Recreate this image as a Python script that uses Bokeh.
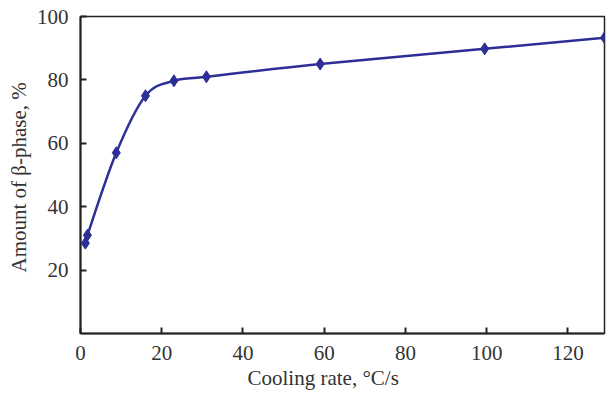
import numpy as np
from bokeh.plotting import figure
from bokeh.models import FixedTicker, Range1d, Title
from bokeh.embed import file_html
from bokeh.resources import INLINE

cooling_rate = [1.2, 1.7, 8.8, 16.0, 23.0, 31.0, 59.0, 99.5, 129.0]
beta_phase = [28.5, 31.0, 57.0, 75.0, 79.7, 81.0, 85.0, 89.8, 93.3]
x_ticks = [0, 20, 40, 60, 80, 100, 120]
y_ticks = [20, 40, 60, 80, 100]

COL = "#2d2f96"
TXT = "#333333"
FONT = "Liberation Serif"

p = figure(width=608, height=394, output_backend="svg", toolbar_location=None,
           x_range=Range1d(0, 129), y_range=Range1d(0, 100),
           min_border_left=80, min_border_right=4, min_border_top=16, min_border_bottom=61)
p.grid.visible = False
p.outline_line_color = "#222222"
p.outline_line_width = 1.5

# smooth curve through points (Catmull-Rom -> cubic Bezier)
x = np.array(cooling_rate); y = np.array(beta_phase)
n = len(x)
x0s, y0s, x1s, y1s, cx0, cy0, cx1, cy1 = [], [], [], [], [], [], [], []
for i in range(n - 1):
    xm = x[i - 1] if i > 0 else x[i]
    ym = y[i - 1] if i > 0 else y[i]
    xp = x[i + 2] if i + 2 < n else x[i + 1]
    yp = y[i + 2] if i + 2 < n else y[i + 1]
    t = 6.0
    x0s.append(x[i]); y0s.append(y[i]); x1s.append(x[i + 1]); y1s.append(y[i + 1])
    cx0.append(x[i] + (x[i + 1] - xm) / t); cy0.append(y[i] + (y[i + 1] - ym) / t)
    cx1.append(x[i + 1] - (xp - x[i]) / t); cy1.append(y[i + 1] - (yp - y[i]) / t)
p.bezier(x0=x0s, y0=y0s, x1=x1s, y1=y1s, cx0=cx0, cy0=cy0, cx1=cx1, cy1=cy1,
         line_color=COL, line_width=2.5)
p.scatter(cooling_rate, beta_phase, marker="diamond", size=12, color=COL)

for ax in (p.xaxis[0], p.yaxis[0]):
    ax.major_tick_in = 6
    ax.major_tick_out = 0
    ax.minor_tick_line_color = None
    ax.axis_line_width = 2
    ax.axis_line_color = "#222222"
    ax.major_tick_line_width = 2
    ax.major_tick_line_color = "#222222"
    ax.major_label_text_font = FONT
    ax.major_label_text_font_size = "21px"
    ax.major_label_text_color = TXT

p.xaxis.ticker = FixedTicker(ticks=x_ticks)
p.yaxis.ticker = FixedTicker(ticks=y_ticks)
p.xaxis.major_label_standoff = 12
p.yaxis.major_label_standoff = 12

xt = Title(text="Cooling rate, \u00b0C/s", align="left", offset=167, standoff=2,
           text_font=FONT, text_font_size="21px", text_font_style="normal",
           text_color=TXT)
p.add_layout(xt, "below")
yt = Title(text="Amount of \u03b2-phase, %", align="left", offset=61, standoff=6,
           text_font=FONT, text_font_size="21px", text_font_style="normal",
           text_color=TXT)
p.add_layout(yt, "left")

open("out.html", "w").write(file_html(p, INLINE))
